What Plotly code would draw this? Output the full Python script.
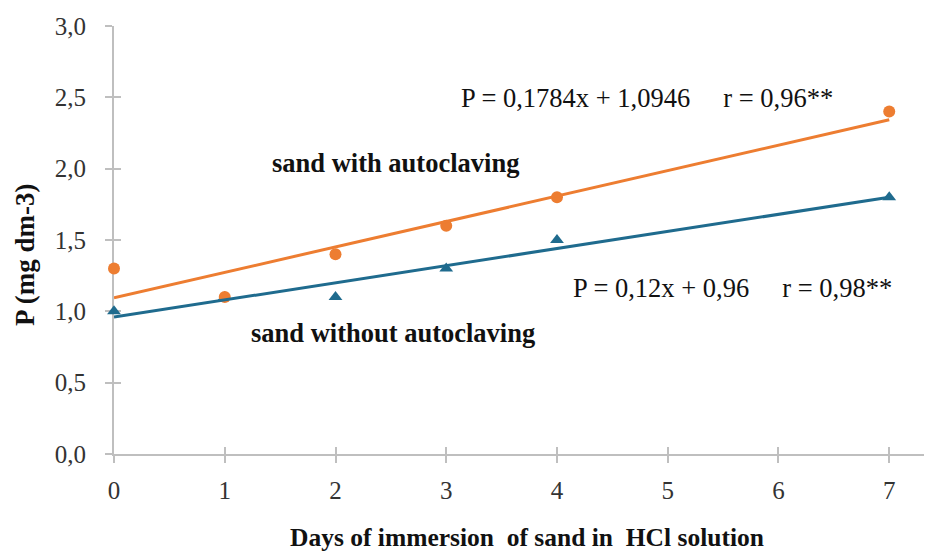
import numpy as np
import plotly.graph_objects as go

days = [0, 1, 2, 3, 4, 7]
with_autoclaving = [1.3, 1.1, 1.4, 1.6, 1.8, 2.4]
without_autoclaving = [1.0, 1.1, 1.1, 1.3, 1.5, 1.8]
y_ticks = [0, 0.5, 1.0, 1.5, 2.0, 2.5, 3.0]
x_ticks = [0, 1, 2, 3, 4, 5, 6, 7]

ORANGE = "#ED7D31"
BLUE = "#1F6B8E"
FONT = "Liberation Serif"

# page body has an 8px margin; compensate so the figure fills the 932x552 window
OFF = 8
W, H = 932 - OFF, 552 - OFF
L, R, T, B = 114 - OFF, 4, 26 - OFF, 98
pw = W - L - R
ph = H - T - B

fig = go.Figure()

# invisible trace so the base axes (outside ticks + labels) are drawn
fig.add_trace(go.Scatter(x=[0], y=[0], mode="markers",
                         marker=dict(opacity=0), showlegend=False, hoverinfo="skip"))

# data on the overlay axes (inside ticks) so the marks sit above every axis element
fig.add_trace(go.Scatter(x=days, y=without_autoclaving, mode="markers",
                         xaxis="x2", yaxis="y2",
                         marker=dict(symbol="triangle-up", size=12, color=BLUE),
                         cliponaxis=False, showlegend=False))
fig.add_trace(go.Scatter(x=days, y=with_autoclaving, mode="markers",
                         xaxis="x2", yaxis="y2",
                         marker=dict(symbol="circle", size=12, color=ORANGE),
                         cliponaxis=False, showlegend=False))

xs = np.array([min(days), max(days)], dtype=float)
for ys, col in [(with_autoclaving, ORANGE), (without_autoclaving, BLUE)]:
    m, b = np.polyfit(days, ys, 1)
    fig.add_trace(go.Scatter(x=xs, y=m * xs + b, mode="lines",
                             xaxis="x2", yaxis="y2",
                             line=dict(color=col, width=3), cliponaxis=False,
                             showlegend=False))

axis_common = dict(showgrid=False, zeroline=False, layer="below traces",
                   linecolor="#BFBFBF", linewidth=2, tickcolor="#BFBFBF",
                   tickwidth=2, ticklen=7)

fig.update_layout(
    width=W, height=H,
    margin=dict(l=L, r=R, t=T, b=B, autoexpand=False),
    paper_bgcolor="white", plot_bgcolor="white",
    separators=",.",
    font=dict(family=FONT, size=25, color="#222222"),
    xaxis=dict(range=[0, 7.35], tickvals=x_ticks, ticks="outside", showline=True,
               ticklabelstandoff=6,
               tickfont=dict(size=25, color="#333333"), **axis_common),
    yaxis=dict(range=[0, 3.0], tickvals=y_ticks, tickformat=".1f", ticks="outside",
               showline=True, ticklabelstandoff=14,
               tickfont=dict(size=25, color="#333333"), **axis_common),
    xaxis2=dict(range=[0, 7.35], tickvals=x_ticks, ticks="inside", overlaying="x",
                showline=False, showticklabels=False, anchor="y2", **axis_common),
    yaxis2=dict(range=[0, 3.0], tickvals=y_ticks, ticks="inside", overlaying="y",
                showline=False, showticklabels=False, anchor="x2", **axis_common),
)

# positions measured in the reference picture (window pixels)
ann = [
    dict(text="P = 0,1784x + 1,0946 &nbsp;&nbsp;&nbsp; r = 0,96**", x=647, y=98, bold=False, size=26.5),
    dict(text="sand with autoclaving", x=395, y=163, bold=True, size=26.5),
    dict(text="P = 0,12x + 0,96 &nbsp;&nbsp;&nbsp; r = 0,98**", x=732, y=288, bold=False, size=26.5),
    dict(text="sand without autoclaving", x=393, y=333, bold=True, size=26.5),
    dict(text="Days of immersion &nbsp;of sand in &nbsp;HCl solution", x=527, y=537, bold=True, size=25.5),
]
for a in ann:
    t = "<b>" + a["text"] + "</b>" if a["bold"] else a["text"]
    fig.add_annotation(text=t, xref="paper", yref="paper",
                       x=(a["x"] - OFF - L) / pw, y=1 - (a["y"] - OFF - T) / ph,
                       showarrow=False, xanchor="center", yanchor="middle",
                       font=dict(family=FONT, size=a["size"], color="#111111"))

fig.add_annotation(text="<b>P (mg dm-3)</b>", xref="paper", yref="paper",
                   x=(25 - OFF - L) / pw, y=1 - (255 - OFF - T) / ph, textangle=-90,
                   showarrow=False, xanchor="center", yanchor="middle",
                   font=dict(family=FONT, size=27, color="#111111"))

fig.write_html("out.html")
